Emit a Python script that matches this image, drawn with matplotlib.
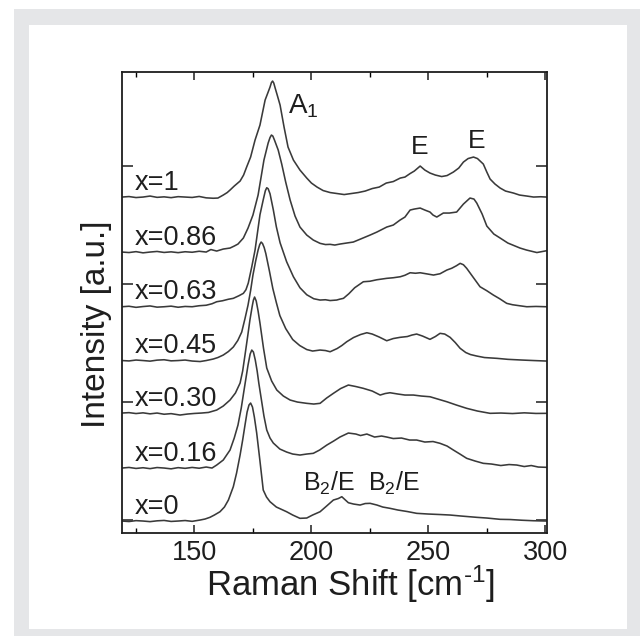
import matplotlib
matplotlib.use('Agg')
import matplotlib.pyplot as plt
from matplotlib.patches import Rectangle

plt.rcParams['font.family'] = ['Liberation Sans', 'DejaVu Sans']
plt.rcParams['mathtext.fontset'] = 'custom'
plt.rcParams['mathtext.rm'] = 'Liberation Sans'
plt.rcParams['mathtext.it'] = 'Liberation Sans'

# Raman spectra, one per composition (shift in cm^-1, intensity in a.u.)
labels = ['x=1', 'x=0.86', 'x=0.63', 'x=0.45', 'x=0.30', 'x=0.16', 'x=0']
offsets = [3.36, 2.81, 2.263, 1.725, 1.20, 0.65, 0.12]

s1 = [119, 122, 125, 128, 131, 134, 137, 140, 143, 146, 149, 152, 155, 158, 160, 162.3, 164, 165.2, 167, 169.5,
      171, 172.3, 174, 175.9, 178, 180.2, 181.5, 182.3, 182.9, 183.4, 183.9, 184.5, 185.5, 186.6, 188.3, 190,
      192.3, 195.1, 198, 200, 202.4, 205, 208, 211, 214, 217, 220, 223, 226, 229, 232, 235, 238, 240, 242.2,
      244, 246.5, 248.5, 250.7, 253, 255.7, 258, 260.7, 263, 265, 267, 269.3, 271, 273.5, 275, 276.4, 278.5,
      280.7, 283, 286.4, 289, 292.1, 295, 298, 300.5]
i1 = [0.0, 0.005, -0.005, 0.0, 0.01, -0.003, 0.002, -0.006, 0.004, 0.0, -0.004, 0.006, -0.008, -0.012, -0.01,
      0.02, 0.045, 0.07, 0.11, 0.16, 0.22, 0.30, 0.40, 0.57, 0.72, 0.97, 1.05, 1.10, 1.145, 1.16, 1.14, 1.09,
      1.01, 0.92, 0.70, 0.50, 0.37, 0.27, 0.19, 0.14, 0.10, 0.065, 0.045, 0.035, 0.025, 0.035, 0.045, 0.06,
      0.085, 0.10, 0.14, 0.155, 0.19, 0.20, 0.235, 0.26, 0.31, 0.27, 0.24, 0.22, 0.205, 0.215, 0.25, 0.29, 0.35,
      0.385, 0.40, 0.385, 0.33, 0.25, 0.18, 0.13, 0.09, 0.06, 0.04, 0.02, 0.01, 0.0, 0.003, 0.0]

s2 = [119, 122, 125, 128, 131, 134, 137, 140, 143, 146, 149, 152, 155, 157, 159.5, 162.3, 165.2, 167, 168.6,
      170.9, 172.9, 175, 177.2, 179.7, 181.5, 182.3, 182.9, 183.5, 184.2, 185.8, 187.3, 189, 190.9, 193, 195.1,
      198, 200.8, 203.7, 206, 208, 210, 212.2, 215, 217.9, 221, 225.1, 228, 232.2, 235, 237.9, 240, 242.2, 244,
      246.5, 248.5, 250.7, 252, 253.6, 255, 256.4, 259, 262.1, 265, 267.8, 269.5, 270.7, 273, 275, 278, 280.7,
      284, 289.2, 292, 296.4, 300.5]
i2 = [0.0, -0.005, 0.004, -0.008, 0.0, 0.006, -0.004, 0.002, -0.006, 0.003, -0.002, 0.008, 0.0, 0.025, 0.01,
      0.03, 0.04, 0.06, 0.08, 0.14, 0.24, 0.37, 0.57, 0.92, 1.09, 1.145, 1.17, 1.16, 1.12, 1.02, 0.88, 0.70,
      0.52, 0.36, 0.25, 0.17, 0.12, 0.087, 0.075, 0.077, 0.07, 0.08, 0.09, 0.10, 0.13, 0.17, 0.20, 0.25, 0.27,
      0.32, 0.35, 0.42, 0.43, 0.44, 0.42, 0.40, 0.37, 0.35, 0.37, 0.39, 0.39, 0.40, 0.48, 0.54, 0.53, 0.49,
      0.38, 0.26, 0.18, 0.14, 0.09, 0.04, 0.02, -0.005, 0.013]

s3 = [119, 122, 125, 128, 131, 134, 137, 140, 143, 146, 149, 152, 155, 157.5, 159.5, 162, 164.5, 166.6, 169,
      170.9, 172, 173, 174.5, 175.9, 178, 179.4, 180.3, 180.9, 181.5, 182.3, 183.7, 185, 186.6, 189.4, 192.3,
      195.1, 198, 201, 203.7, 206, 208, 210.8, 212, 213.7, 216, 218.5, 222.2, 225, 228, 232.2, 235, 238, 240,
      242.2, 244.5, 246.5, 249, 252.2, 255, 257.9, 260, 262, 263.6, 265, 266.4, 269, 272.1, 275, 277.8, 280.5,
      283.5, 286, 289, 292.1, 296, 300.5]
i3 = [0.0, 0.005, -0.006, 0.002, 0.008, -0.004, 0.0, 0.006, -0.005, 0.003, 0.0, 0.01, 0.015, 0.03, 0.05, 0.06,
      0.075, 0.084, 0.11, 0.134, 0.17, 0.237, 0.40, 0.567, 0.92, 1.07, 1.16, 1.19, 1.18, 1.13, 0.97, 0.80, 0.64,
      0.45, 0.30, 0.19, 0.12, 0.08, 0.067, 0.07, 0.062, 0.067, 0.075, 0.084, 0.13, 0.19, 0.25, 0.255, 0.27,
      0.284, 0.29, 0.30, 0.315, 0.34, 0.335, 0.34, 0.33, 0.317, 0.33, 0.367, 0.385, 0.41, 0.434, 0.42, 0.384,
      0.30, 0.20, 0.16, 0.117, 0.08, 0.034, 0.02, 0.01, 0.0, 0.003, 0.0]

s4 = [119, 122, 125, 128, 131, 134, 137, 140, 143, 146, 149, 152.4, 155, 158, 160, 162.3, 164.5, 166.6, 168.5,
      170.2, 171.6, 172.9, 174, 175, 176.2, 177.2, 177.9, 178.5, 179.1, 179.8, 180.5, 182, 183.5, 185, 186.5,
      189, 192, 195, 198, 200.5, 203.7, 206, 208, 211, 213, 215.1, 218, 221, 223.7, 226, 229, 232.2, 235, 237.9,
      241, 243, 245, 247.5, 250.7, 253, 255, 257, 259.3, 261.5, 263.6, 266, 268, 270.7, 274, 279.3, 284, 290,
      295, 300.5]
i4 = [0.0, -0.004, 0.005, 0.0, -0.006, 0.004, 0.008, -0.003, 0.0, 0.005, -0.005, -0.01, 0.0, 0.015, 0.03,
      0.055, 0.09, 0.135, 0.20, 0.285, 0.42, 0.555, 0.70, 0.855, 1.0, 1.105, 1.16, 1.185, 1.17, 1.13, 1.07, 0.90,
      0.72, 0.58, 0.45, 0.32, 0.21, 0.15, 0.11, 0.095, 0.105, 0.10, 0.088, 0.12, 0.15, 0.188, 0.23, 0.26, 0.278,
      0.265, 0.235, 0.198, 0.22, 0.232, 0.24, 0.255, 0.265, 0.245, 0.212, 0.24, 0.272, 0.265, 0.232, 0.18,
      0.122, 0.08, 0.06, 0.045, 0.03, 0.022, 0.012, 0.005, 0.0, -0.005]

s5 = [119, 122, 125, 128, 131, 134, 137, 140, 143.8, 147, 150, 153, 156, 159.5, 162.3, 165.2, 167.5, 169.5,
      170.6, 171.6, 172.7, 173.7, 174.7, 175.2, 175.7, 176.4, 177.2, 178, 179.5, 180.9, 183, 185.2, 188, 190.9,
      194, 198, 201, 203.7, 206.5, 209.4, 212.5, 215.8, 219, 222.2, 226, 229.4, 231.5, 233.6, 237, 240, 243.6,
      247, 250.7, 254, 257.9, 262, 266.4, 271, 276.4, 281, 286, 291, 296, 300.5]
i5 = [0.0, 0.004, -0.005, 0.002, -0.008, 0.0, -0.012, -0.006, -0.02, -0.01, -0.004, 0.0, 0.006, 0.03, 0.07,
      0.13, 0.20, 0.30, 0.42, 0.58, 0.76, 0.93, 1.07, 1.13, 1.16, 1.12, 1.02, 0.90, 0.65, 0.45, 0.32, 0.23, 0.17,
      0.13, 0.11, 0.097, 0.09, 0.097, 0.15, 0.197, 0.245, 0.28, 0.265, 0.247, 0.22, 0.18, 0.195, 0.203, 0.19,
      0.18, 0.18, 0.17, 0.163, 0.14, 0.113, 0.08, 0.047, 0.02, -0.003, 0.0, -0.005, 0.002, -0.004, -0.003]

s6 = [119, 122, 125, 128, 131, 134, 137, 140, 143, 146, 149, 152, 155, 157.5, 159.5, 162.3, 165.2, 167, 168.6,
      170, 171.2, 172.9, 173.8, 174.5, 175.2, 176, 176.8, 177.5, 178.5, 179.7, 180.9, 182.3, 183.7, 186.5,
      189.4, 192, 195.1, 198, 200.8, 203.5, 206.6, 209.5, 212.2, 215.8, 219, 221, 223.7, 227, 230, 232.2, 235,
      238.5, 242, 245, 248.5, 252, 255, 258, 260.7, 263.5, 266.4, 270, 273.5, 277, 281, 284.5, 287.8, 291, 294,
      297, 300.5]
i6 = [0.0, 0.006, -0.004, 0.003, -0.006, 0.005, 0.0, -0.008, 0.004, -0.003, 0.006, -0.002, 0.01, 0.0, 0.03,
      0.08, 0.18, 0.30, 0.43, 0.60, 0.78, 1.03, 1.14, 1.18, 1.16, 1.08, 0.97, 0.85, 0.70, 0.52, 0.38, 0.30,
      0.25, 0.19, 0.16, 0.14, 0.13, 0.14, 0.147, 0.18, 0.23, 0.27, 0.31, 0.35, 0.34, 0.325, 0.34, 0.31, 0.32,
      0.31, 0.295, 0.30, 0.28, 0.28, 0.26, 0.265, 0.247, 0.22, 0.18, 0.14, 0.097, 0.07, 0.047, 0.04, 0.025,
      0.035, 0.03, 0.015, 0.025, 0.01, 0.007]

s7 = [119, 122, 125, 128, 131, 134, 137, 140, 143, 146, 149, 152.4, 154.5, 156.6, 158.5, 160.9, 162.8, 164.5,
      166.6, 168, 169.5, 170.6, 171.6, 172.5, 173.3, 174.0, 174.8, 175.6, 176.6, 178, 179.4, 180.8, 182.3, 185,
      189.4, 192, 195.1, 198, 200.5, 203.7, 206.5, 209.4, 211.5, 213, 214.3, 215.8, 218, 220.8, 223, 225.1, 228,
      230.5, 233.6, 237, 241, 245, 250, 255, 259.3, 264, 270.7, 275, 280.7, 285, 290, 294.9, 300.5]
i7 = [0.0, -0.005, 0.004, 0.0, -0.006, 0.002, 0.006, -0.004, 0.0, 0.005, -0.003, 0.01, 0.02, 0.037, 0.06,
      0.093, 0.14, 0.21, 0.343, 0.48, 0.66, 0.81, 0.96, 1.09, 1.16, 1.18, 1.14, 1.04, 0.88, 0.60, 0.31, 0.24,
      0.193, 0.14, 0.093, 0.06, 0.027, 0.03, 0.06, 0.093, 0.15, 0.21, 0.225, 0.243, 0.215, 0.183, 0.17, 0.16,
      0.175, 0.177, 0.16, 0.14, 0.127, 0.11, 0.095, 0.077, 0.07, 0.065, 0.06, 0.05, 0.037, 0.03, 0.017, 0.015,
      0.008, 0.003, 0.0]

shifts = [s1, s2, s3, s4, s5, s6, s7]
intens = [i1, i2, i3, i4, i5, i6, i7]

fig = plt.figure(figsize=(6.4, 6.36), dpi=100)
fig.patch.set_facecolor('white')
# grey frame and white panel behind the plot
fig.patches.append(Rectangle((0.0219, 0.0), 0.979, 0.9858, transform=fig.transFigure,
                             facecolor='#e5e6e8', edgecolor='none', zorder=-2))
fig.patches.append(Rectangle((0.0453, 0.011), 0.9344, 0.9497, transform=fig.transFigure,
                             facecolor='white', edgecolor='none', zorder=-1))

ax = fig.add_axes([0.1906, 0.1619, 0.6636, 0.7248])
for s, v, off, lab in zip(shifts, intens, offsets, labels):
    ax.plot(s, [off + y for y in v], color='#3a3a3a', lw=1.15)
    ax.text(124.5, off + 0.075, lab, fontsize=19.5, color='#1e1e1e', ha='left', va='baseline')

ax.text(190.1, 4.197, 'A$_1$', fontsize=20, color='#1e1e1e', ha='left', va='baseline')
ax.text(246.5, 3.79, 'E', fontsize=19, color='#1e1e1e', ha='center', va='baseline')
ax.text(270.8, 3.847, 'E', fontsize=19, color='#1e1e1e', ha='center', va='baseline')
ax.text(196.5, 0.42, 'B$_2$/E', fontsize=18, color='#1e1e1e', ha='left', va='baseline')
ax.text(224.3, 0.42, 'B$_2$/E', fontsize=18, color='#1e1e1e', ha='left', va='baseline')

ax.set_xlim(119, 300.6)
ax.set_ylim(0, 4.61)
ax.set_xticks([150, 200, 250, 300])
ax.set_xticks([125, 175, 225, 275], minor=True)
ax.set_yticks([0.13, 1.31, 2.49, 3.67])
ax.set_yticklabels([])
ax.tick_params(axis='both', which='major', direction='in', top=True, right=True,
               length=6, width=1.1, labelsize=19.5, pad=5, colors='#1e1e1e')
ax.tick_params(axis='y', which='major', length=8)
ax.tick_params(axis='x', which='minor', direction='in', top=True, length=3.5, width=1.0)
for sp in ax.spines.values():
    sp.set_linewidth(1.3)
    sp.set_color('#1e1e1e')

ax.set_xlabel('Raman Shift [cm$^{\\text{-}1}$]', fontsize=25, color='#1e1e1e', va='top')
ax.xaxis.set_label_coords(0.537, -0.066)
ax.set_ylabel('Intensity [a.u.]', fontsize=24, color='#1e1e1e')
ax.yaxis.set_label_coords(-0.024, 0.453)

fig.savefig('out.png', dpi=100)
